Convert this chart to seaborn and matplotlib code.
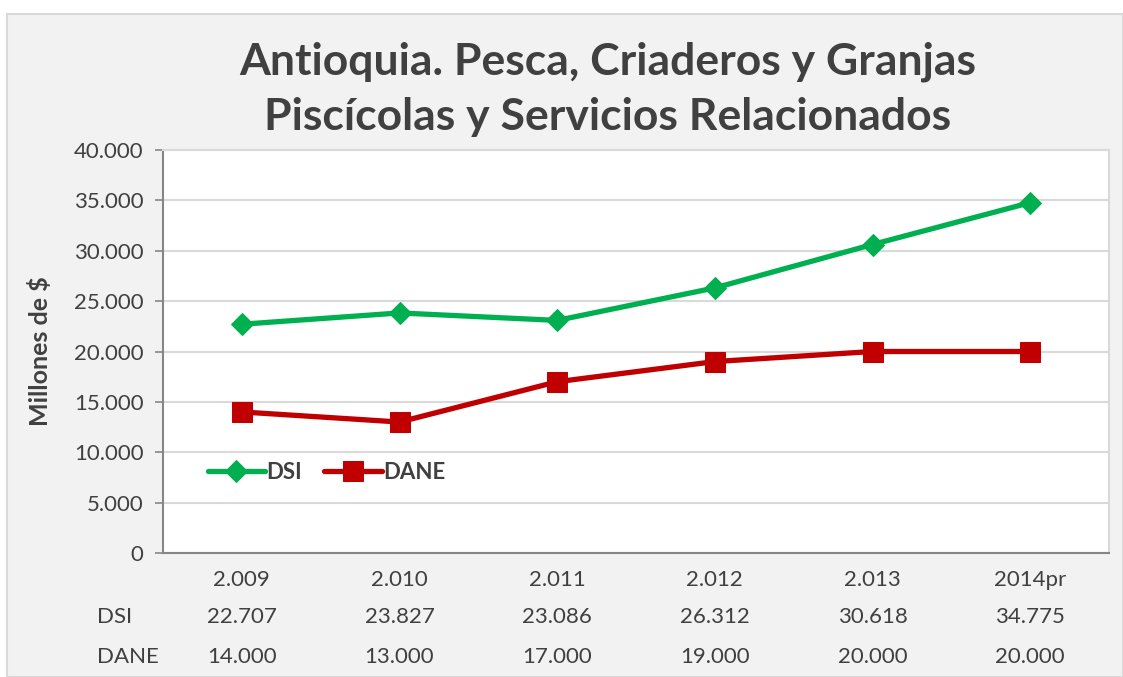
import pandas as pd
import numpy as np
import matplotlib.pyplot as plt
import seaborn as sns
from matplotlib.patches import Rectangle
from matplotlib.ticker import FuncFormatter
import matplotlib.transforms as mtransforms

# datos
years = ['2.009', '2.010', '2.011', '2.012', '2.013', '2014pr']
dsi = [22707, 23827, 23086, 26312, 30618, 34775]
dane = [14000, 13000, 17000, 19000, 20000, 20000]
dsi_txt = ['22.707', '23.827', '23.086', '26.312', '30.618', '34.775']
dane_txt = ['14.000', '13.000', '17.000', '19.000', '20.000', '20.000']

sns.set_theme(style='white')
plt.rcParams['font.family'] = ['Lato', 'DejaVu Sans']

txt_color = '#404040'
green = '#00B050'
red = '#C00000'
fs = 16

fig = plt.figure(figsize=(11.23, 6.77), dpi=100)
fig.patch.set_facecolor('white')
# fondo del grafico
bg = Rectangle((7 / 1123, 0), 1 - 7 / 1123, 1 - 14 / 677,
               transform=fig.transFigure, facecolor='#F2F2F2',
               edgecolor='#D9D9D9', linewidth=1.5, zorder=-10)
fig.patches.append(bg)

ax = fig.add_axes([163 / 1123, 124 / 677, 946 / 1123, 403 / 677])
ax.set_facecolor('white')

x = np.arange(len(years))
df = pd.DataFrame({'x': x, 'DSI': dsi, 'DANE': dane})

sns.lineplot(data=df, x='x', y='DSI', ax=ax, color=green, linewidth=3.8,
             marker='D', markersize=11, markeredgecolor=green, label='DSI')
sns.lineplot(data=df, x='x', y='DANE', ax=ax, color=red, linewidth=3.8,
             marker='s', markersize=14, markeredgecolor=red, label='DANE')

ax.set_xlim(-0.5, 5.5)
ax.set_ylim(0, 40000)
ax.set_yticks(np.arange(0, 40001, 5000))
ax.yaxis.set_major_formatter(FuncFormatter(lambda v, p: f'{int(v):,}'.replace(',', '.')))
ax.set_xticks(x)
ax.set_xticklabels(years)
ax.grid(axis='y', color='#D9D9D9', linewidth=1.5)
ax.set_axisbelow(True)

for s in ['top', 'right']:
    ax.spines[s].set_color('#D9D9D9')
    ax.spines[s].set_linewidth(1.5)
ax.spines['left'].set_color('#868686')
ax.spines['bottom'].set_color('#868686')
ax.spines['left'].set_linewidth(1.5)
ax.spines['bottom'].set_linewidth(1.5)

ax.tick_params(axis='y', left=True, length=6, width=1.2, color='#868686',
               labelsize=fs, labelcolor=txt_color, pad=8)
ax.tick_params(axis='x', bottom=False, labelsize=fs, labelcolor=txt_color, pad=6)

ax.set_xlabel('')
ax.set_ylabel('Millones de $', fontsize=18, fontweight='bold', color=txt_color)
ax.yaxis.set_label_coords(-0.117, 0.5)

# tabla de datos
trans = mtransforms.blended_transform_factory(ax.transData, fig.transFigure)
for i in range(len(years)):
    ax.text(x[i], 1 - 617 / 677, dsi_txt[i], transform=trans, ha='center', va='center',
            fontsize=fs, color=txt_color)
    ax.text(x[i], 1 - 657 / 677, dane_txt[i], transform=trans, ha='center', va='center',
            fontsize=fs, color=txt_color)
fig.text(97 / 1123, 1 - 617 / 677, 'DSI', ha='left', va='center', fontsize=fs, color=txt_color)
fig.text(97 / 1123, 1 - 657 / 677, 'DANE', ha='left', va='center', fontsize=fs, color=txt_color)

# titulo
fig.text(608 / 1123, 1 - 62 / 677, 'Antioquia. Pesca, Criaderos y Granjas',
         ha='center', va='center', fontsize=32, fontweight='bold', color=txt_color)
fig.text(608 / 1123, 1 - 117 / 677, 'Piscícolas y Servicios Relacionados',
         ha='center', va='center', fontsize=32, fontweight='bold', color=txt_color)

leg = ax.legend(loc='center left', bbox_to_anchor=(0.026, 0.2), ncol=2, frameon=False,
                handlelength=2.6, columnspacing=1.0, handletextpad=0.05,
                prop={'weight': 'bold', 'size': fs})
for t in leg.get_texts():
    t.set_color(txt_color)

fig.savefig('out.png', dpi=100, facecolor=fig.get_facecolor())
